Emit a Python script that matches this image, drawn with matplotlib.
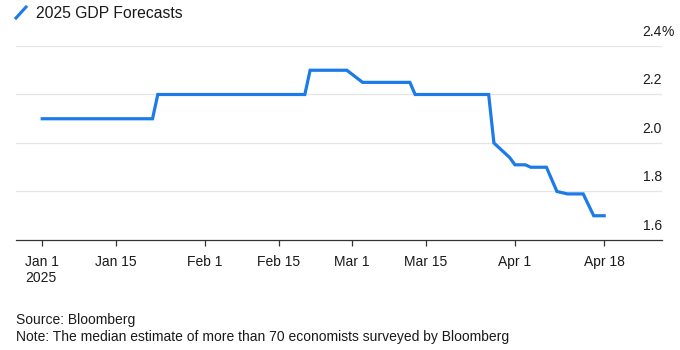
import matplotlib
matplotlib.use("Agg")
import matplotlib.pyplot as plt
import matplotlib.lines as mlines
import numpy as np

plt.rcParams['font.family'] = ['Liberation Sans', 'DejaVu Sans']

# median 2025 GDP forecast (%), change points only
dates = np.array(["2025-01-01", "2025-01-22", "2025-01-23", "2025-02-20", "2025-02-21",
                  "2025-02-28", "2025-03-03", "2025-03-12", "2025-03-13", "2025-03-27",
                  "2025-03-28", "2025-03-29", "2025-03-31", "2025-04-01", "2025-04-03",
                  "2025-04-04", "2025-04-07", "2025-04-09", "2025-04-11", "2025-04-14",
                  "2025-04-16", "2025-04-18"], dtype="datetime64[D]")
gdp = [2.1, 2.1, 2.2, 2.2, 2.3,
       2.3, 2.25, 2.25, 2.2, 2.2,
       2.0, 1.98, 1.94, 1.91, 1.91,
       1.90, 1.90, 1.80, 1.79, 1.79,
       1.70, 1.70]

tick_dates = np.array(["2025-01-01", "2025-01-15", "2025-02-01", "2025-02-15", "2025-03-01",
                       "2025-03-15", "2025-04-01", "2025-04-18"], dtype="datetime64[D]")
tick_labels = ["Jan 1\n2025", "Jan 15", "Feb 1", "Feb 15", "Mar 1", "Mar 15", "Apr 1", "Apr 18"]

y_ticks = [1.6, 1.8, 2.0, 2.2, 2.4]
y_labels = ["1.6", "1.8", "2.0", "2.2", "2.4%"]

blue = "#1b7be8"
txt = "#1a1a1a"

fig = plt.figure(figsize=(6.8, 3.5), dpi=100)
ax = fig.add_axes([0.0235, 0.3143, 0.95, 0.5543])

ax.plot(dates, gdp, color=blue, lw=2.3, solid_joinstyle='miter')

ax.set_ylim(1.6, 2.4)
ax.set_xlim(np.datetime64("2025-01-01") - np.timedelta64(5, 'D'),
            np.datetime64("2025-01-01") + np.timedelta64(118, 'D'))

for v in y_ticks[1:]:
    ax.axhline(v, color="#e5e5e5", lw=0.9, zorder=0)
ax.set_yticks([])
for v, lab in zip(y_ticks, y_labels):
    num = lab.rstrip('%')
    ax.annotate(num, xy=(1.0, v), xycoords=('axes fraction', 'data'),
                xytext=(0, 7), textcoords='offset pixels',
                ha='right', va='bottom', fontsize=10, color=txt)
    if lab.endswith('%'):
        ax.annotate('%', xy=(1.0, v), xycoords=('axes fraction', 'data'),
                    xytext=(0, 7), textcoords='offset pixels',
                    ha='left', va='bottom', fontsize=10, color=txt,
                    annotation_clip=False)

for s in ['top', 'right', 'left']:
    ax.spines[s].set_visible(False)
ax.spines['bottom'].set_color("#333333")
ax.spines['bottom'].set_linewidth(0.9)

ax.set_xticks(tick_dates)
ax.set_xticklabels(tick_labels, fontsize=10, color=txt, multialignment='left')
ax.tick_params(axis='x', direction='out', length=4, width=0.9, color="#333333", pad=7)
ax.patch.set_visible(False)

# legend / title
fig.add_artist(mlines.Line2D([16 / 680, 26 / 680], [1 - 18 / 350, 1 - 7 / 350],
                             color=blue, lw=2.2, transform=fig.transFigure))
fig.text(36 / 680, 1 - 13 / 350, "2025 GDP Forecasts", fontsize=11.3, color=txt,
         ha='left', va='center')

fig.text(16 / 680, 1 - 320 / 350, "Source: Bloomberg", fontsize=10, color=txt,
         ha='left', va='center')
fig.text(16 / 680, 1 - 337 / 350,
         "Note: The median estimate of more than 70 economists surveyed by Bloomberg",
         fontsize=10, color=txt, ha='left', va='center')

fig.savefig("out.png", dpi=100)
